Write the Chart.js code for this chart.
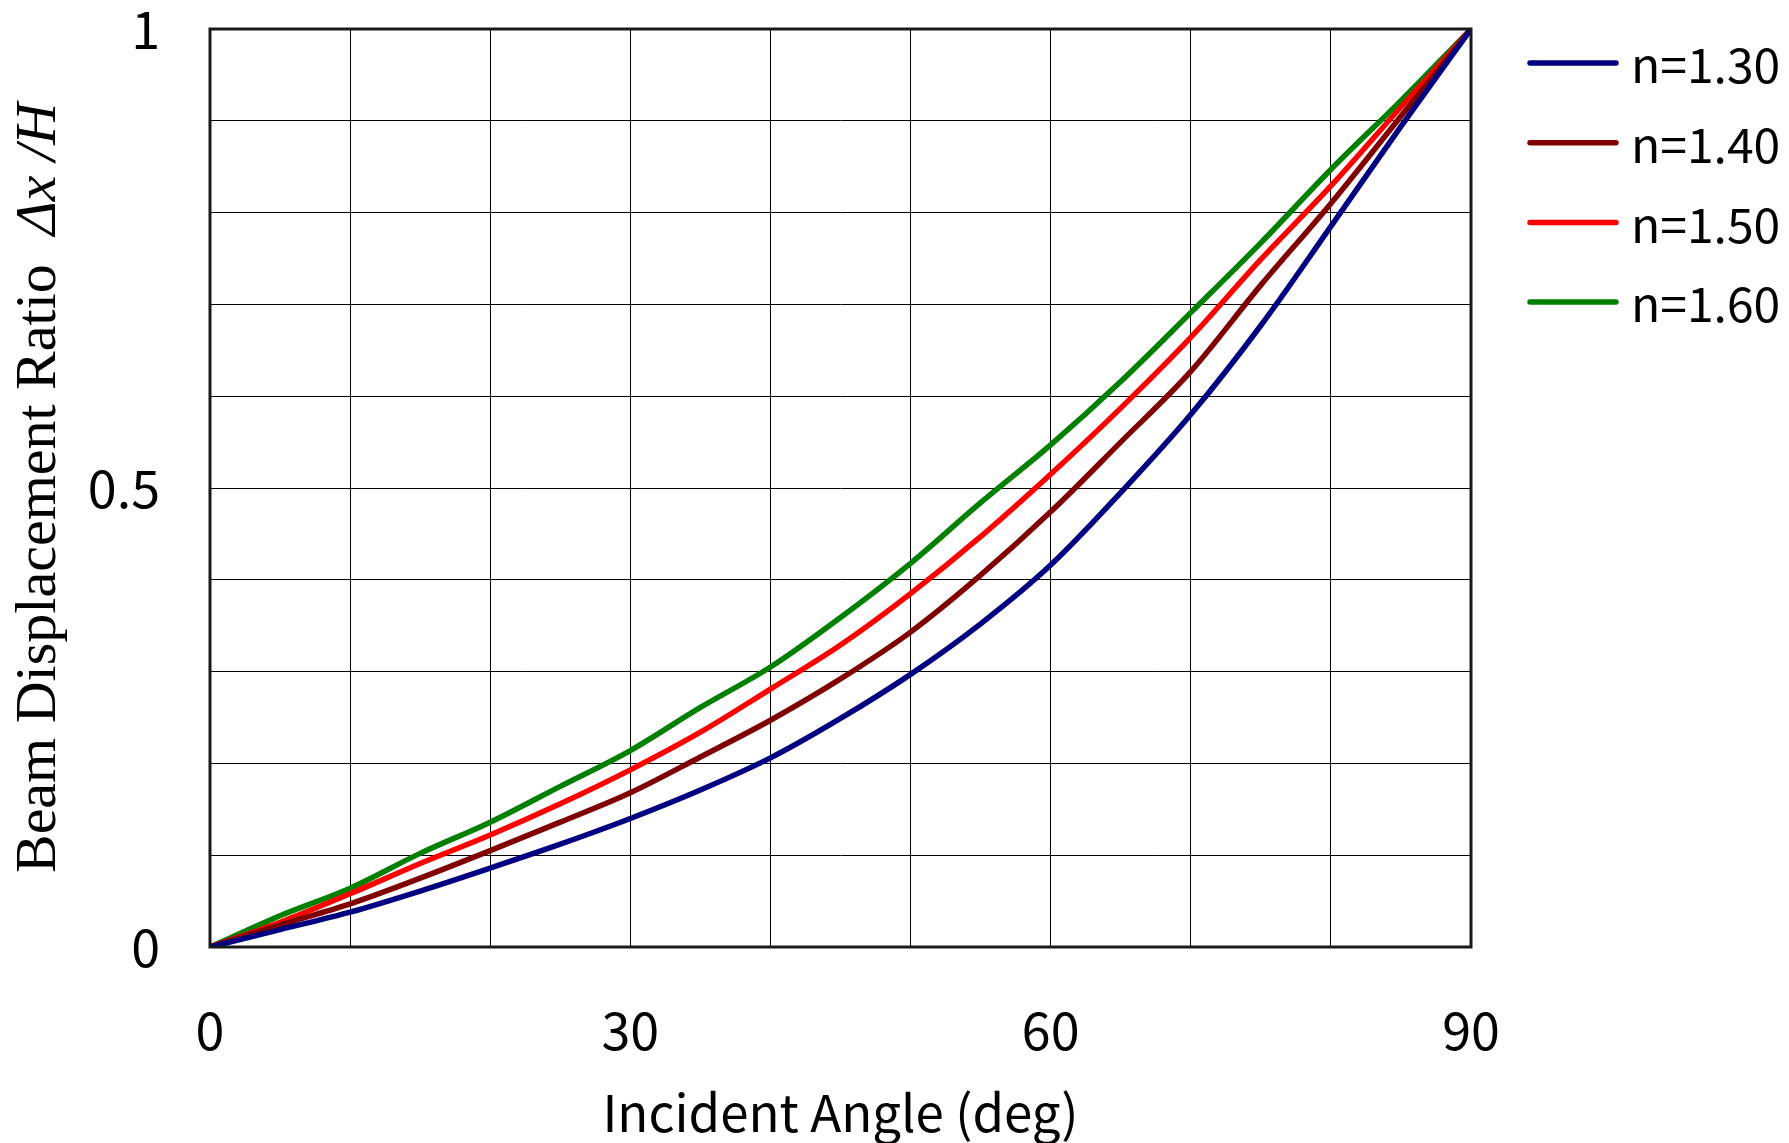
<!DOCTYPE html>
<html>
<head>
<meta charset="utf-8">
<script src="https://cdn.jsdelivr.net/npm/chart.js@4.4.1/dist/chart.umd.min.js"></script>
<style>
  body { margin: 0; background: #fff; }
  canvas { display: block; }
</style>
</head>
<body>
<canvas id="beamChart" width="1789" height="1143"></canvas>
<script>
// incident angle in degrees
var angles = [0, 5, 10, 15, 20, 25, 30, 35, 40, 45, 50, 55, 60, 65, 70, 75, 80, 85, 90];

// displacement ratio, one array per refractive index
var n130 = [0, 0.019, 0.038, 0.061, 0.086, 0.112, 0.140, 0.171, 0.206, 0.249, 0.297, 0.352, 0.416, 0.495, 0.580, 0.677, 0.785, 0.894, 1.0];
var n140 = [0, 0.024, 0.047, 0.075, 0.105, 0.136, 0.168, 0.207, 0.247, 0.292, 0.343, 0.405, 0.474, 0.550, 0.627, 0.721, 0.810, 0.905, 1.0];
var n150 = [0, 0.027, 0.058, 0.091, 0.122, 0.156, 0.193, 0.234, 0.281, 0.329, 0.385, 0.447, 0.515, 0.587, 0.664, 0.749, 0.829, 0.915, 1.0];
var n160 = [0, 0.034, 0.064, 0.102, 0.136, 0.175, 0.214, 0.261, 0.305, 0.359, 0.418, 0.484, 0.547, 0.616, 0.691, 0.767, 0.847, 0.922, 1.0];

var seriesLabels = ['n=1.30', 'n=1.40', 'n=1.50', 'n=1.60'];
var seriesColors = ['#000080', '#800000', '#ff0000', '#008000'];
var xTickLabels = [0, 30, 60, 90];
var yTickLabels = [0, 0.5, 1];

var gothic = '"Noto Sans CJK JP", "Noto Sans", sans-serif';

function toPoints(values) {
    return values.map(function (v, i) { return { x: angles[i], y: v }; });
}

var allSeries = [n130, n140, n150, n160];
var datasets = allSeries.map(function (values, i) {
    return {
        label: seriesLabels[i],
        data: toPoints(values),
        borderColor: seriesColors[i],
        backgroundColor: seriesColors[i],
        borderWidth: 5.5,
        pointRadius: 0,
        cubicInterpolationMode: 'monotone',
        fill: false
    };
});

// frame, legend and the mixed-style y title
var decorations = {
    id: 'decorations',
    afterDraw: function (chart) {
        var ctx = chart.ctx;
        var area = chart.chartArea;
        ctx.save();

        ctx.strokeStyle = '#1a1a1a';
        ctx.lineWidth = 3;
        ctx.strokeRect(area.left, area.top, area.right - area.left, area.bottom - area.top);

        // legend
        ctx.font = '48px ' + gothic;
        ctx.textBaseline = 'middle';
        ctx.textAlign = 'left';
        chart.data.datasets.forEach(function (ds, i) {
            var y = 63 + i * 79.7;
            ctx.strokeStyle = ds.borderColor;
            ctx.lineWidth = 5.5;
            ctx.lineCap = 'round';
            ctx.beginPath();
            ctx.moveTo(1530, y);
            ctx.lineTo(1616, y);
            ctx.stroke();
            ctx.fillStyle = '#000';
            ctx.fillText(ds.label, 1631, y + 2);
        });

        // y axis title, rotated
        var plain = 'Beam Displacement Ratio  ';
        var ital = '\u0394x /H';
        var plainFont = '58px "Liberation Serif", "Times New Roman", serif';
        var italFont = 'italic 58px "Liberation Serif", "Times New Roman", serif';
        ctx.font = plainFont;
        var w1 = ctx.measureText(plain).width;
        ctx.font = italFont;
        var w2 = ctx.measureText(ital).width;
        var cy = (area.top + area.bottom) / 2;
        ctx.translate(40, cy);
        ctx.rotate(-Math.PI / 2);
        ctx.fillStyle = '#000';
        ctx.textBaseline = 'middle';
        ctx.font = plainFont;
        ctx.fillText(plain, -(w1 + w2) / 2, 0);
        ctx.font = italFont;
        ctx.fillText(ital, -(w1 + w2) / 2 + w1, 0);
        ctx.restore();
    }
};

var ctx = document.getElementById('beamChart').getContext('2d');

var beamChart = new Chart(ctx, {
    type: 'line',
    data: { datasets: datasets },
    options: {
        responsive: false,
        animation: false,
        devicePixelRatio: 1,
        layout: {
            padding: { top: 29, right: 318, left: 0, bottom: 0 }
        },
        plugins: {
            legend: { display: false },
            tooltip: { enabled: false }
        },
        scales: {
            x: {
                type: 'linear',
                min: 0,
                max: 90,
                ticks: {
                    stepSize: 10,
                    autoSkip: false,
                    maxRotation: 0,
                    padding: 0,
                    color: '#000',
                    font: { family: gothic, size: 52 },
                    callback: function (value) {
                        return xTickLabels.indexOf(value) >= 0 ? String(value) : '';
                    }
                },
                grid: { color: '#000', lineWidth: 1, drawTicks: true, tickLength: 52, tickColor: 'rgba(0,0,0,0)' },
                border: { display: false },
                title: {
                    display: true,
                    text: 'Incident Angle (deg)',
                    color: '#000',
                    font: { family: gothic, size: 51 },
                    padding: { top: 0, bottom: 0 }
                },
                afterFit: function (scale) { scale.height = 196; }
            },
            y: {
                type: 'linear',
                min: 0,
                max: 1,
                ticks: {
                    stepSize: 0.1,
                    autoSkip: false,
                    padding: 0,
                    color: '#000',
                    font: { family: gothic, size: 52, lineHeight: 1.1 },
                    callback: function (value) {
                        var v = Math.round(value * 10) / 10;
                        return yTickLabels.indexOf(v) >= 0 ? String(v) : '';
                    }
                },
                grid: { color: '#000', lineWidth: 1, drawTicks: true, tickLength: 50, tickColor: 'rgba(0,0,0,0)' },
                border: { display: false },
                afterFit: function (scale) { scale.width = 210; }
            }
        }
    },
    plugins: [decorations]
});
</script>
</body>
</html>
